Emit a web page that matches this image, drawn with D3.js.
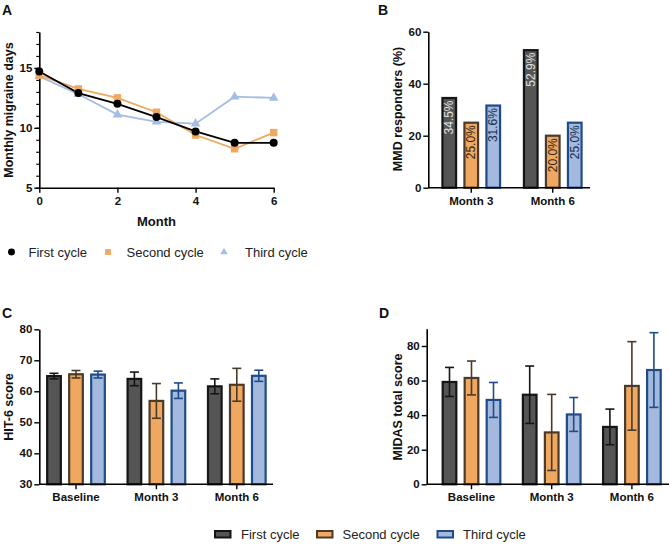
<!DOCTYPE html>
<html>
<head>
<meta charset="utf-8">
<script src="https://cdn.jsdelivr.net/npm/d3@7"></script>
<style>
  html, body { margin: 0; padding: 0; background: #fff; }
  svg { display: block; font-family: "Liberation Sans", Arial, Helvetica, sans-serif; }
</style>
</head>
<body>
<svg id="chart" width="669" height="544"></svg>
<script>
// ---------- DATA ----------
const seriesNames = ["First cycle", "Second cycle", "Third cycle"];

// Panel A: monthly migraine days
const months = [0, 1, 2, 3, 4, 5, 6];
const mmdFirst  = [14.7, 12.9, 12.0, 10.9, 9.7, 8.75, 8.75];
const mmdSecond = [14.4, 13.25, 12.5, 11.3, 9.4, 8.25, 9.6];
const mmdThird  = [14.3, 12.8, 11.1, 10.5, 10.35, 12.6, 12.5];
const aXTicks = [0, 2, 4, 6];
const aYTicks = [5, 10, 15];

// Panel B: MMD responders (%)
const bCategories = ["Month 3", "Month 6"];
const respFirst  = [34.5, 52.9];
const respSecond = [25.0, 20.0];
const respThird  = [31.6, 25.0];
const bYTicks = [0, 20, 40, 60];

// Panel C: HIT-6 score (mean, error)
const cdCategories = ["Baseline", "Month 3", "Month 6"];
const hitFirst     = [64.9, 64.0, 61.6];
const hitFirstErr  = [0.9, 2.2, 2.4];
const hitSecond    = [65.5, 56.9, 62.1];
const hitSecondErr = [1.2, 5.6, 5.3];
const hitThird     = [65.4, 60.2, 65.0];
const hitThirdErr  = [1.1, 2.5, 1.8];
const cYTicks = [30, 40, 50, 60, 70, 80];

// Panel D: MIDAS total score (mean, error)
const midFirst     = [59.2, 51.8, 33.2];
const midFirstErr  = [8.4, 16.6, 10.3];
const midSecond    = [61.5, 30.0, 56.9];
const midSecondErr = [9.8, 22.0, 25.6];
const midThird     = [48.8, 40.4, 66.1];
const midThirdErr  = [10.1, 9.8, 21.6];
const dYTicks = [0, 20, 40, 60, 80];

// ---------- STYLES ----------
const lineColors = ["#000000", "#F0A85E", "#A6BDE2"];
const barFill    = ["#555555", "#F0A860", "#A3B9DD"];
const barStroke  = ["#151515", "#4A3A2A", "#1F4C88"];
const labelFill  = ["#e2e2e2", "#2a2218", "#1a2c4c"];

const svg = d3.select("#chart");
const font = "'Liberation Sans', Arial, Helvetica, sans-serif";

function styleAxis(g, fs) {
  g.selectAll("path.domain").attr("stroke", "#000").attr("stroke-width", 1.6);
  g.selectAll(".tick line").attr("stroke", "#000").attr("stroke-width", 1.4);
  g.selectAll(".tick text").attr("font-family", font).attr("font-size", fs || 11)
    .attr("font-weight", "bold").attr("fill", "#111");
}

function panelLabel(txt, x, y) {
  svg.append("text").attr("x", x).attr("y", y).text(txt)
    .attr("font-family", font).attr("font-size", 14).attr("font-weight", "bold").attr("fill", "#111");
}

function yTitle(txt, x, y) {
  svg.append("text").attr("transform", `translate(${x},${y}) rotate(-90)`)
    .attr("text-anchor", "middle").text(txt)
    .attr("font-family", font).attr("font-size", 12.5).attr("font-weight", "bold").attr("fill", "#111");
}

// ---------- PANEL A ----------
{
  const x = d3.scaleLinear().domain([0, 6]).range([39.3, 273.7]);
  const y = d3.scaleLinear().domain([5, 18]).range([187.7, 32]);

  // minor ticks
  const yMinor = d3.range(5, 19, 1);
  svg.append("g").attr("transform", `translate(${x(0)},0)`)
    .call(d3.axisLeft(y).tickValues(yMinor).tickSize(3).tickFormat(""))
    .call(g => g.select(".domain").remove())
    .call(g => g.selectAll("line").attr("stroke", "#000").attr("stroke-width", 1.2));

  const gy = svg.append("g").attr("transform", `translate(${x(0)},0)`)
    .call(d3.axisLeft(y).tickValues(aYTicks).tickFormat(d3.format("d")).tickSize(5).tickSizeOuter(0).tickPadding(2));
  styleAxis(gy, 11.5);
  const gx = svg.append("g").attr("transform", `translate(0,${y(5)})`)
    .call(d3.axisBottom(x).tickValues(aXTicks).tickFormat(d3.format("d")).tickSize(5).tickSizeOuter(0).tickPadding(4));
  styleAxis(gx, 11.5);

  svg.append("text").attr("x", (x(0) + x(6)) / 2).attr("y", 226).attr("text-anchor", "middle")
    .text("Month").attr("font-family", font).attr("font-size", 13).attr("font-weight", "bold").attr("fill", "#111");
  yTitle("Monthly migraine days", 13, 110);
  panelLabel("A", 2, 15);

  const allSeries = [mmdFirst, mmdSecond, mmdThird];
  const line = d3.line().x((d, i) => x(months[i])).y(d => y(d));
  // draw third, second, first order (first on top)
  [2, 1, 0].forEach(si => {
    svg.append("path").datum(allSeries[si]).attr("d", line)
      .attr("fill", "none").attr("stroke", lineColors[si]).attr("stroke-width", 1.8);
  });
  const sym = [d3.symbolCircle, d3.symbolSquare, d3.symbolTriangle];
  const symSize = [50, 55, 40];
  [2, 1, 0].forEach(si => {
    svg.append("g").selectAll("path").data(allSeries[si]).join("path")
      .attr("transform", (d, i) => `translate(${x(months[i])},${y(d)})`)
      .attr("d", d3.symbol().type(sym[si]).size(symSize[si]))
      .attr("fill", lineColors[si]);
  });

  // legend A
  const legX = [11.5, 108, 224];
  const legTX = [28.5, 126.5, 245];
  const legSize = [38, 34, 24];
  seriesNames.forEach((n, i) => {
    svg.append("path").attr("transform", `translate(${legX[i]},${252})`)
      .attr("d", d3.symbol().type(sym[i]).size(legSize[i])).attr("fill", lineColors[i]);
    svg.append("text").attr("x", legTX[i]).attr("y", 256.5).text(n)
      .attr("font-family", font).attr("font-size", 13).attr("fill", "#222");
  });
}

// ---------- Grouped bar helper ----------
function groupedBars(opts) {
  const { cats, vals, errs, yDomain, yRange, bandRange, axisX0, axisX1, yTicks } = opts;
  const y = d3.scaleLinear().domain(yDomain).range(yRange);
  const x0 = d3.scaleBand().domain(cats).range(bandRange).paddingInner(0).paddingOuter(0);
  const x1 = d3.scaleBand().domain(seriesNames).range([-33, 33]).paddingInner(0.38).paddingOuter(0.19);

  cats.forEach((c, ci) => {
    seriesNames.forEach((s, si) => {
      const v = vals[si][ci];
      const bx = x0(c) + x0.bandwidth() / 2 + x1(s);
      const bw = x1.bandwidth();
      const cx = bx + bw / 2;
      svg.append("rect").attr("x", bx).attr("y", y(v)).attr("width", bw)
        .attr("height", y(yDomain[0]) - y(v))
        .attr("fill", barFill[si]).attr("stroke", barStroke[si]).attr("stroke-width", 2.2);
      if (errs) {
        const e = errs[si][ci];
        const g = svg.append("g").attr("stroke", barStroke[si]).attr("stroke-width", 1.6);
        g.append("line").attr("x1", cx).attr("x2", cx).attr("y1", y(v + e)).attr("y2", y(v - e));
        g.append("line").attr("x1", cx - 4.5).attr("x2", cx + 4.5).attr("y1", y(v + e)).attr("y2", y(v + e));
        g.append("line").attr("x1", cx - 4.5).attr("x2", cx + 4.5).attr("y1", y(v - e)).attr("y2", y(v - e));
      }
      if (opts.labels) {
        svg.append("text")
          .attr("transform", `translate(${cx},${y(v) + 2.5}) rotate(-90)`)
          .attr("text-anchor", "end").attr("dy", "0.35em")
          .text(v.toFixed(1) + "%")
          .attr("font-family", font).attr("font-size", 12).attr("fill", labelFill[si]);
      }
    });
  });

  const gy = svg.append("g").attr("transform", `translate(${axisX0},0)`)
    .call(d3.axisLeft(y).tickValues(yTicks).tickSize(5).tickSizeOuter(0).tickPadding(2));
  styleAxis(gy, 11.5);
  const gx = svg.append("g").attr("transform", `translate(0,${y(yDomain[0])})`)
    .call(d3.axisBottom(x0).tickSize(5).tickSizeOuter(0).tickPadding(4));
  gx.select(".domain").remove();
  styleAxis(gx, 11.5);
  svg.append("line").attr("x1", axisX0).attr("x2", axisX1)
    .attr("y1", y(yDomain[0])).attr("y2", y(yDomain[0]))
    .attr("stroke", "#000").attr("stroke-width", 1.6);
  return y;
}

// ---------- PANEL B ----------
groupedBars({
  cats: bCategories, vals: [respFirst, respSecond, respThird], errs: null,
  yDomain: [0, 60], yRange: [187.7, 31.7], bandRange: [430.5, 593.5],
  axisX0: 428.3, axisX1: 590, yTicks: bYTicks, labels: true
});
yTitle("MMD responders (%)", 402, 109);
panelLabel("B", 378, 15);

// ---------- PANEL C ----------
groupedBars({
  cats: cdCategories, vals: [hitFirst, hitSecond, hitThird], errs: [hitFirstErr, hitSecondErr, hitThirdErr],
  yDomain: [30, 80], yRange: [484.3, 329.3], bandRange: [35.8, 277],
  axisX0: 39.3, axisX1: 273, yTicks: cYTicks
});
yTitle("HIT-6 score", 13, 407);
panelLabel("C", 2, 318);

// ---------- PANEL D ----------
groupedBars({
  cats: cdCategories, vals: [midFirst, midSecond, midThird], errs: [midFirstErr, midSecondErr, midThirdErr],
  yDomain: [0, 90], yRange: [484.3, 328.7], bandRange: [431.4, 672],
  axisX0: 426.7, axisX1: 669, yTicks: dYTicks
});
yTitle("MIDAS total score", 402, 407);
panelLabel("D", 379, 318);

// ---------- Bottom legend ----------
{
  const sx = [215, 317, 437.5];
  const tx = [241, 342.5, 463];
  seriesNames.forEach((n, i) => {
    svg.append("rect").attr("x", sx[i]).attr("y", 531).attr("width", 15.5).attr("height", 6.5)
      .attr("fill", barFill[i]).attr("stroke", barStroke[i]).attr("stroke-width", 2);
    svg.append("text").attr("x", tx[i]).attr("y", 538.5).text(n)
      .attr("font-family", font).attr("font-size", 13).attr("fill", "#222");
  });
}
</script>
</body>
</html>
